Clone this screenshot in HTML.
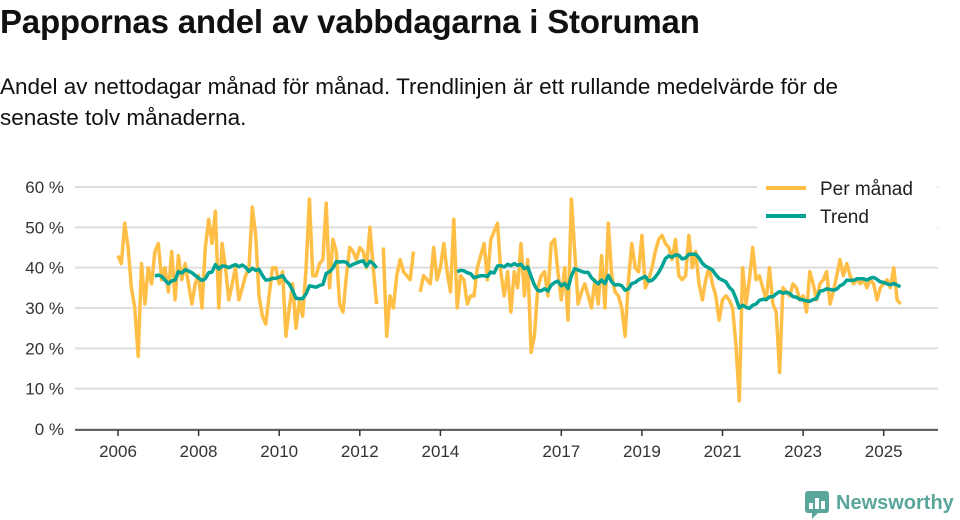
<!DOCTYPE html>
<html><head><meta charset="utf-8">
<style>
body{margin:0;background:#fff;width:960px;height:520px;overflow:hidden;font-family:"Liberation Sans",sans-serif;color:#111}
#title{position:absolute;left:0;top:3px;font-size:33px;font-weight:bold;white-space:nowrap;letter-spacing:-0.2px}
#sub{position:absolute;left:0;top:71px;font-size:22.5px;line-height:31px;width:900px}
svg{position:absolute;left:0;top:0}
</style></head><body>
<div id="title">Pappornas andel av vabbdagarna i Storuman</div>
<div id="sub">Andel av nettodagar månad för månad. Trendlinjen är ett rullande medelvärde för de senaste tolv månaderna.</div>
<svg id="chart" width="960" height="520"></svg>
<script>
const yTicks=[0,10,20,30,40,50,60];
const xTickYears=[2006,2008,2010,2012,2014,2017,2019,2021,2023,2025];
const startYear=2006;
const monthly=[
43,41,51,45,35,30,18,41,31,40,36,44,
46,37,40,34,44,32,43,37,41,36,31,36,
38,30,45,52,46,54,30,46,40,32,36,40,
32,35,38,40,55,48,33,28,26,33,40,40,
36,39,23,30,36,25,32,28,40,57,38,38,
41,42,56,35,47,44,31,29,38,45,44,42,
45,44,40,50,40,31,null,45,23,33,30,38,
42,39,38,37,44,null,34,38,37,36,45,37,
40,46,39,34,52,30,38,37,31,33,33,40,
43,46,37,47,49,51,39,33,39,29,39,35,
46,33,42,19,23,35,38,39,33,46,47,39,
32,40,27,57,44,31,34,36,33,30,37,31,
43,30,51,38,34,33,30,23,37,46,40,39,
48,35,37,40,44,47,48,46,45,42,47,38,
37,38,48,40,44,36,32,37,40,36,33,27,
32,33,32,30,21,7,40,31,37,45,37,38,
35,32,40,31,29,14,35,34,33,36,35,32,
33,29,39,36,32,36,37,39,31,34,38,42,
38,41,38,36,37,36,37,35,37,36,32,35,
36,37,35,40,32,31
];
const svg=document.getElementById('chart');
const NS='http://www.w3.org/2000/svg';
const x0=118,pxYear=40.3;
function xScale(i){return x0+i*pxYear/12;}
function yScale(v){return 429-v*242/60;}
function mk(t,a,p){const e=document.createElementNS(NS,t);for(const k in a)e.setAttribute(k,a[k]);(p||svg).appendChild(e);return e;}
yTicks.forEach(v=>{
  const g=mk('line',{x1:75,x2:938,y1:yScale(v),y2:yScale(v),stroke:'#dedede','stroke-width':2});
  
  
  const t=mk('text',{x:64,y:yScale(v)+6,'text-anchor':'end','font-size':17,fill:'#333','font-family':'Liberation Sans, sans-serif'});
  t.textContent=v+' %';
  
  
});
mk('line',{x1:75,x2:938,y1:430,y2:430,stroke:'#333','stroke-width':1.5});
xTickYears.forEach(y=>{
  const x=xScale((y-startYear)*12);
  mk('line',{x1:x,x2:x,y1:430,y2:436,stroke:'#333','stroke-width':1.5});
  const t=mk('text',{x:x,y:457,'text-anchor':'middle','font-size':17,fill:'#333','font-family':'Liberation Sans, sans-serif'});
  t.textContent=y;
  
  
});
function pathFrom(arr){let d='',pen=false;arr.forEach((v,i)=>{if(v==null){pen=false;return;}d+=(pen?'L':'M')+xScale(i).toFixed(1)+','+yScale(v).toFixed(1);pen=true;});return d;}
const trend=monthly.map((v,i)=>{if(i<11)return null;let s=0;for(let k=i-11;k<=i;k++){if(monthly[k]==null)return null;s+=monthly[k];}return s/12;});
const p1=mk('path',{d:pathFrom(monthly),fill:'none',stroke:'#ffbf47','stroke-width':3.5,'stroke-linejoin':'round'});


const p2=mk('path',{d:pathFrom(trend),fill:'none',stroke:'#00a394','stroke-width':3.5,'stroke-linejoin':'round'});


const lg=mk('g',{});


mk('rect',{x:757,y:173,width:180,height:58,fill:'#fff'},lg);
mk('line',{x1:766,x2:806,y1:188,y2:188,stroke:'#ffbf47','stroke-width':4},lg);
const l1=mk('text',{x:820,y:195,'font-size':19,fill:'#222','font-family':'Liberation Sans, sans-serif'},lg);l1.textContent='Per månad';


mk('line',{x1:766,x2:806,y1:216,y2:216,stroke:'#00a394','stroke-width':4},lg);
const l2=mk('text',{x:820,y:223,'font-size':19,fill:'#222','font-family':'Liberation Sans, sans-serif'},lg);l2.textContent='Trend';


const lo=mk('g',{});


mk('rect',{x:805,y:491,width:24,height:22,rx:3,fill:'#5aa69a'},lo);
mk('path',{d:'M812,513 L812,519 L818,513 Z',fill:'#5aa69a'},lo);
[[809,503,4,6],[815,498,4,11],[821,501,4,8]].forEach(r=>mk('rect',{x:r[0],y:r[1],width:r[2],height:r[3],fill:'#fff'},lo));
const lt=mk('text',{x:836,y:509,'font-size':20,'font-weight':'bold',fill:'#5aa69a','font-family':'Liberation Sans, sans-serif'},lo);lt.textContent='Newsworthy';
</script>
</body></html>
